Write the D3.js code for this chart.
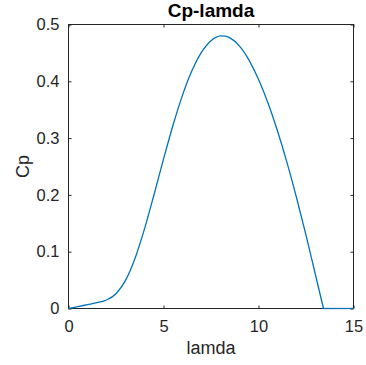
<!DOCTYPE html>
<html><head><meta charset="utf-8">
<script src="https://cdn.jsdelivr.net/npm/d3@7"></script>
<style>body{margin:0;background:#fff}svg{display:block}</style>
</head><body>
<svg id="c" width="366" height="365"></svg>
<script>
const lambda = [0,0.5,1,1.5,2,2.5,3,3.5,4,4.5,5,5.5,6,6.5,7,7.5,7.75,8,8.25,8.5,9,9.5,10,10.5,11,11.5,12,12.5,13,13.42];
const cp     = [0,0.0034,0.0068,0.0102,0.015,0.0261,0.0495,0.0882,0.1401,0.2003,0.2629,0.3227,0.3757,0.4191,0.4512,0.4716,0.4772,0.4798,0.4795,0.4764,0.462,0.4374,0.4037,0.3618,0.3125,0.2568,0.1954,0.1293,0.059,0];
const tailLambda = [13.42,15];
const tailCp = [0,0];
const xTicks = [0,5,10,15];
const yTicks = [0,0.1,0.2,0.3,0.4,0.5];
const title = "Cp-lamda", xLabel = "lamda", yLabel = "Cp";

const svg = d3.select("#c");
const L=68.5,R=353.5,T=24.5,B=308.5;
const x = d3.scaleLinear().domain([0,15]).range([L,R]);
const y = d3.scaleLinear().domain([0,0.5]).range([B,T]);
const font = "'Liberation Sans', Arial, Helvetica, sans-serif";
const axCol = "#262626";

// box
svg.append("rect").attr("x",L).attr("y",T).attr("width",R-L).attr("height",B-T)
  .attr("fill","none").attr("stroke",axCol).attr("stroke-width",1);

const fmt = d3.format("~g");
// bottom/top axes
const gx = svg.append("g").attr("transform",`translate(0,${B})`)
  .call(d3.axisBottom(x).tickValues(xTicks).tickSize(-3).tickPadding(12).tickFormat(fmt));
const gxt = svg.append("g").attr("transform",`translate(0,${T})`)
  .call(d3.axisTop(x).tickValues(xTicks).tickSize(-3).tickFormat(""));
const gy = svg.append("g").attr("transform",`translate(${L},0)`)
  .call(d3.axisLeft(y).tickValues(yTicks).tickSize(-3).tickPadding(9).tickFormat(fmt));
const gyr = svg.append("g").attr("transform",`translate(${R},0)`)
  .call(d3.axisRight(y).tickValues(yTicks).tickSize(-3).tickFormat(""));
[gx,gxt,gy,gyr].forEach(g=>{
  g.select(".domain").remove();
  g.selectAll(".tick line").attr("stroke",axCol);
  g.selectAll("text").attr("fill",axCol).style("font-family",font).style("font-size","16.5px");
});

// curve
const line = d3.line().x(d=>x(d[0])).y(d=>y(d[1]));
svg.append("path").datum(lambda.map((l,i)=>[l,cp[i]]))
  .attr("d",line.curve(d3.curveMonotoneX)).attr("fill","none")
  .attr("stroke","#0072BD").attr("stroke-width",1.3);
svg.append("path").datum(tailLambda.map((l,i)=>[l,tailCp[i]]))
  .attr("d",d3.line().x(d=>x(d[0])).y(d=>y(d[1]))).attr("fill","none")
  .attr("stroke","#0072BD").attr("stroke-width",1.3);

// labels
svg.append("text").attr("x",(L+R)/2).attr("y",16.5).attr("text-anchor","middle")
  .style("font-family",font).style("font-size","19px").style("font-weight","bold")
  .attr("fill","#000").text(title);
svg.append("text").attr("x",(L+R)/2).attr("y",354).attr("text-anchor","middle")
  .style("font-family",font).style("font-size","18px").attr("fill",axCol).text(xLabel);
svg.append("text").attr("transform",`translate(29,${(T+B)/2}) rotate(-90)`).attr("text-anchor","middle")
  .style("font-family",font).style("font-size","18px").attr("fill",axCol).text(yLabel);
</script>
</body></html>
